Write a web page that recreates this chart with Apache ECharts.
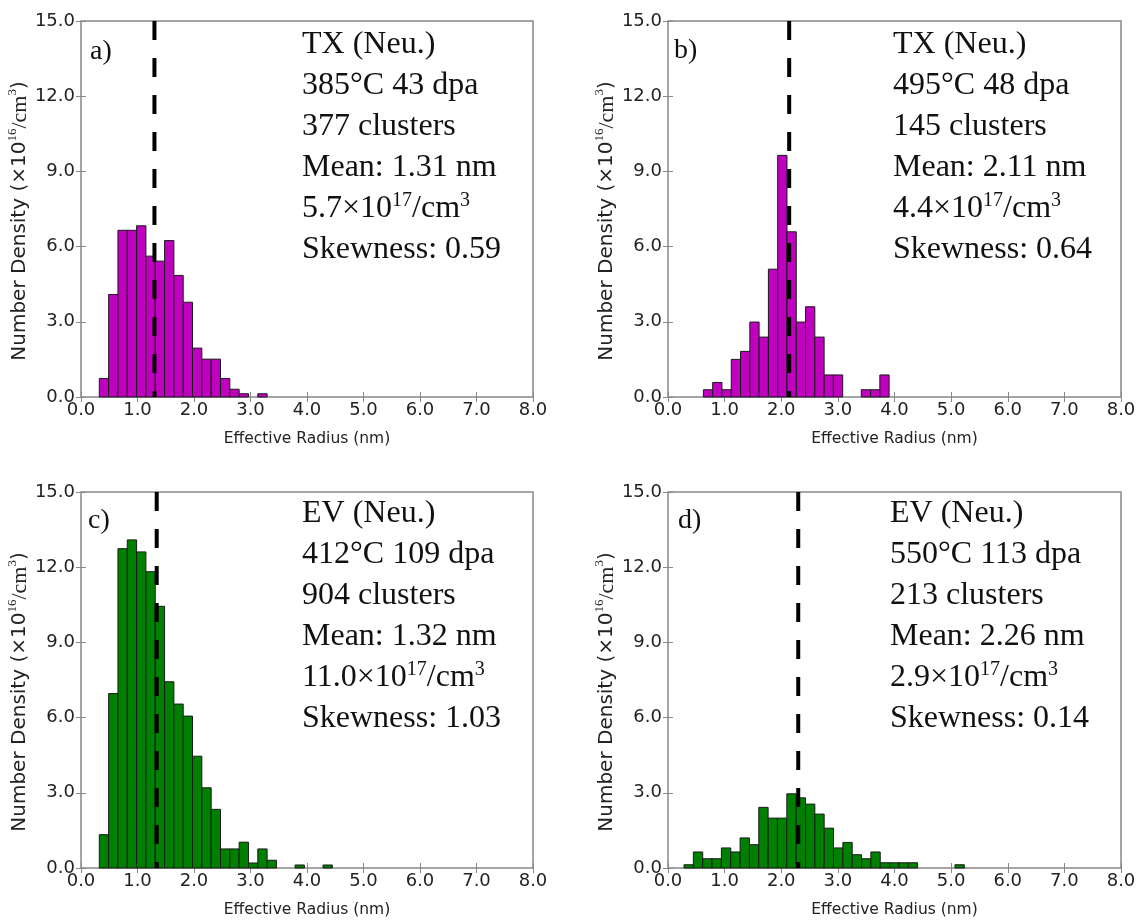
<!DOCTYPE html>
<html>
<head>
<meta charset="utf-8">
<script src="https://cdn.jsdelivr.net/npm/echarts/dist/echarts.min.js"></script>
<style>
html,body{margin:0;padding:0;background:#fff;}
#chart{width:1142px;height:922px;}
</style>
</head>
<body>
<div id="chart"></div>
<script>
// ---- tick labels ----
const xTickLabels = ['0.0','1.0','2.0','3.0','4.0','5.0','6.0','7.0','8.0'];
const yTickLabels = ['0.0','3.0','6.0','9.0','12.0','15.0'];

// ---- histogram data (bin start nm, bin width nm, heights x1e16/cm3) ----
const aBinStart = 0.324, aBinWidth = 0.165;
const aHeights = [0.74, 4.09, 6.65, 6.65, 6.83, 5.62, 5.42, 6.24, 4.85, 3.78, 1.95, 1.51, 1.51, 0.74, 0.31, 0.13, 0, 0.13];
const aMeanLine = 1.30;
const aNotes = ['TX (Neu.)', '385°C 43 dpa', '377 clusters', 'Mean: 1.31 nm', '5.7×10{s|17}/cm{s|3}', 'Skewness: 0.59'];

const bBinStart = 0.625, bBinWidth = 0.164;
const bHeights = [0.29, 0.58, 0.29, 1.50, 1.82, 2.99, 2.39, 5.10, 9.64, 6.59, 2.99, 3.60, 2.39, 0.88, 0.88, 0, 0, 0.29, 0.29, 0.88];
const bMeanLine = 2.14;
const bNotes = ['TX (Neu.)', '495°C 48 dpa', '145 clusters', 'Mean: 2.11 nm', '4.4×10{s|17}/cm{s|3}', 'Skewness: 0.64'];

const cBinStart = 0.324, cBinWidth = 0.165;
const cHeights = [1.33, 6.96, 12.74, 13.09, 12.61, 11.82, 10.44, 7.43, 6.54, 6.06, 4.46, 3.20, 2.34, 0.76, 0.76, 1.03, 0.20, 0.76, 0.31, 0, 0, 0.12, 0, 0, 0.12];
const cMeanLine = 1.34;
const cNotes = ['EV (Neu.)', '412°C 109 dpa', '904 clusters', 'Mean: 1.32 nm', '11.0×10{s|17}/cm{s|3}', 'Skewness: 1.03'];

const dBinStart = 0.283, dBinWidth = 0.165;
const dHeights = [0.13, 0.64, 0.37, 0.37, 0.80, 0.64, 1.20, 0.93, 2.42, 1.99, 1.99, 2.96, 2.80, 2.55, 2.15, 1.59, 0.80, 1.02, 0.53, 0.37, 0.64, 0.21, 0.21, 0.21, 0.21, 0, 0, 0, 0, 0.13];
const dMeanLine = 2.30;
const dNotes = ['EV (Neu.)', '550°C 113 dpa', '213 clusters', 'Mean: 2.26 nm', '2.9×10{s|17}/cm{s|3}', 'Skewness: 0.14'];

const panelLabels = ['a)', 'b)', 'c)', 'd)'];
const xName = 'Effective Radius (nm)';
const yName = '{n|Number Density (×10}{s|16}{m|/cm}{s|3}{n|)}';

// ---- layout ----
const MAGENTA = '#BF00BF', GREEN = '#008000';
const panels = [
  {grid:{left:81, top:21, width:452, height:376}, color:MAGENTA, start:aBinStart, w:aBinWidth, h:aHeights, mean:aMeanLine, notes:aNotes, nx:302, ny:45, lx:90, ly:52},
  {grid:{left:668, top:21, width:453, height:376}, color:MAGENTA, start:bBinStart, w:bBinWidth, h:bHeights, mean:bMeanLine, notes:bNotes, nx:893, ny:45, lx:674, ly:51},
  {grid:{left:81, top:492, width:452, height:376}, color:GREEN, start:cBinStart, w:cBinWidth, h:cHeights, mean:cMeanLine, notes:cNotes, nx:302, ny:514, lx:88, ly:521},
  {grid:{left:668, top:492, width:453, height:376}, color:GREEN, start:dBinStart, w:dBinWidth, h:dHeights, mean:dMeanLine, notes:dNotes, nx:890, ny:514, lx:678, ly:521}
];

const SANS = '"DejaVu Sans", sans-serif';
const SERIF = '"Liberation Serif", "Times New Roman", serif';
const AXC = '#888';
const LBL = '#222';

const grids = [], xAxes = [], yAxes = [], series = [], graphics = [];

panels.forEach((p, i) => {
  grids.push(Object.assign({show:true, borderColor:AXC, borderWidth:1.5, backgroundColor:'#fff', containLabel:false}, p.grid));
  // bottom x axis
  xAxes.push({
    type:'value', gridIndex:i, min:0, max:8, interval:1, position:'bottom',
    name: xName, nameLocation:'middle', nameGap:34,
    nameTextStyle:{fontFamily:SANS, fontSize:15.5, color:LBL},
    axisLine:{show:false}, splitLine:{show:false},
    axisTick:{show:true, inside:true, length:5, lineStyle:{color:AXC}},
    axisLabel:{fontFamily:SANS, fontSize:18, color:LBL, margin:4, formatter:v => xTickLabels[Math.round(v)]}
  });
  // top x axis (ticks only)
  xAxes.push({
    type:'value', gridIndex:i, min:0, max:8, interval:1, position:'top',
    axisLine:{show:false}, splitLine:{show:false}, axisLabel:{show:false},
    axisTick:{show:true, inside:true, length:5, lineStyle:{color:AXC}}
  });
  // left y axis
  yAxes.push({
    type:'value', gridIndex:i, min:0, max:15, interval:3, position:'left',
    name:yName, nameLocation:'middle', nameGap:47, nameRotate:90,
    nameTextStyle:{padding:[0, 24, 0, 0], rich:{
      n:{fontFamily:SANS, fontSize:20, color:LBL, lineHeight:28},
      m:{fontFamily:SERIF, fontSize:22, color:LBL, lineHeight:28},
      s:{fontFamily:SERIF, fontSize:13, color:LBL, lineHeight:16, verticalAlign:'top'}
    }},
    axisLine:{show:false}, splitLine:{show:false},
    axisTick:{show:true, inside:true, length:5, lineStyle:{color:AXC}},
    axisLabel:{fontFamily:SANS, fontSize:18, color:LBL, margin:6, formatter:v => yTickLabels[Math.round(v/3)]}
  });
  // right y axis (ticks only)
  yAxes.push({
    type:'value', gridIndex:i, min:0, max:15, interval:3, position:'right',
    axisLine:{show:false}, splitLine:{show:false}, axisLabel:{show:false},
    axisTick:{show:true, inside:true, length:5, lineStyle:{color:AXC}}
  });

  const bars = [];
  p.h.forEach((v, k) => {
    if (v > 0) bars.push([p.start + k * p.w, p.start + (k + 1) * p.w, v]);
  });
  const col = p.color;
  series.push({
    type:'custom', xAxisIndex:2*i, yAxisIndex:2*i, data:bars,
    encode:{x:[0,1], y:2}, z:2, animation:false,
    renderItem:(params, api) => {
      const a = api.coord([api.value(0), api.value(2)]);
      const b = api.coord([api.value(1), 0]);
      return {type:'rect', shape:{x:a[0], y:a[1], width:b[0]-a[0], height:b[1]-a[1]},
              style:{fill:col, stroke:'#1a1a1a', lineWidth:1}};
    }
  });
  series.push({
    type:'line', xAxisIndex:2*i, yAxisIndex:2*i, data:[[p.mean, 15], [p.mean, 0]],
    symbol:'none', z:5, animation:false, silent:true,
    lineStyle:{color:'#000', width:4, type:[19,18]}
  });

  // annotations
  p.notes.forEach((t, k) => {
    graphics.push({
      type:'text', x:p.nx, y:p.ny + k*41, z:10,
      style:{
        text:t, fontFamily:SERIF, fontSize:32, fill:'#111', lineHeight:37,
        textAlign:'left', textVerticalAlign:'middle', verticalAlign:'middle',
        rich:{ s:{fontFamily:SERIF, fontSize:20, fill:'#111', lineHeight:20, verticalAlign:'top'} }
      }
    });
  });
  graphics.push({
    type:'text', x:p.lx, y:p.ly, z:10,
    style:{text:panelLabels[i], fontFamily:SERIF, fontSize:28, fill:'#111', textAlign:'left', textVerticalAlign:'middle', verticalAlign:'middle'}
  });
});

const chart = echarts.init(document.getElementById('chart'), null, {renderer:'canvas'});
chart.setOption({
  backgroundColor:'#fff',
  animation:false,
  grid:grids, xAxis:xAxes, yAxis:yAxes, series:series, graphic:graphics
});
</script>
</body>
</html>
